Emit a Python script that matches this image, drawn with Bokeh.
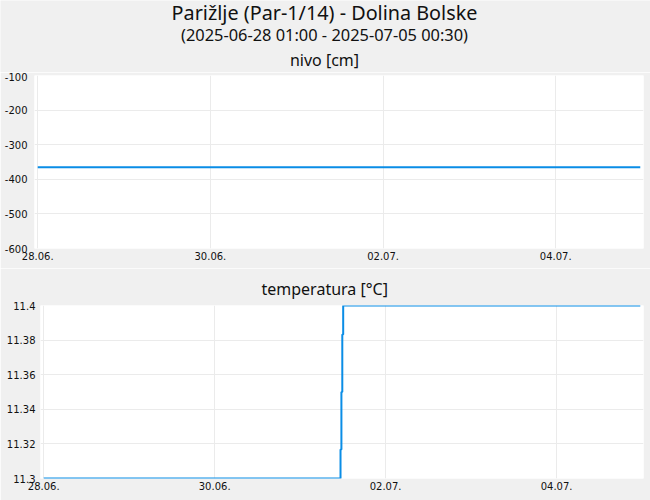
import pandas as pd
from bokeh.plotting import figure
from bokeh.layouts import column
from bokeh.models import Title, FixedTicker, Range1d, Column
from bokeh.core.properties import value
from bokeh.embed import file_html
from bokeh.resources import INLINE

# ---- data ----
title_main = "Parižlje (Par-1/14) - Dolina Bolske"
title_sub = "(2025-06-28 01:00 - 2025-07-05 00:30)"
level_title = "nivo [cm]"
temp_title = "temperatura [°C]"

level_times = ["2025-06-28 01:00", "2025-07-05 00:30"]
level_values = [-365, -365]

temp_times = ["2025-06-28 01:00", "2025-07-01 12:20", "2025-07-01 12:35",
              "2025-07-01 12:50", "2025-07-01 13:05", "2025-07-05 00:30"]
temp_values = [11.3, 11.3167, 11.35, 11.3833, 11.4, 11.4]

x_tick_dates = ["2025-06-28 01:00", "2025-06-30 01:00", "2025-07-02 01:00", "2025-07-04 01:00"]
x_tick_labels = ["28.06.", "30.06.", "02.07.", "04.07."]
level_ticks = [-600, -500, -400, -300, -200, -100]
level_tick_labels = ["-600", "-500", "-400", "-300", "-200", "-100"]
temp_ticks = [11.3, 11.32, 11.34, 11.36, 11.38, 11.4]
temp_tick_labels = ["11.3", "11.32", "11.34", "11.36", "11.38", "11.4"]

range_start = "2025-06-28 00:06"
range_end = "2025-07-05 01:24"


def ms(s):
    return pd.Timestamp(s).value / 1e6


LINE = "#0a8de6"
BG = "#f0f0f0"
TITLE_FONT = "Noto Sans"
TICK_FONT = "DejaVu Sans"
W = 650
H0 = 72

x_ticks = [ms(t) for t in x_tick_dates]
x_range = Range1d(ms(range_start), ms(range_end))

# ---- header strip with the titles ----
p0 = figure(width=W, height=H0, x_range=Range1d(0, W), y_range=Range1d(H0, 0),
            x_axis_type=None, y_axis_type=None, output_backend="svg",
            toolbar_location=None, title=None, min_border=0,
            min_border_left=0, min_border_right=0, min_border_top=0, min_border_bottom=0,
            background_fill_color=BG, border_fill_color=BG, outline_line_color=None)
p0.text(x=[324], y=[11.7], text=[title_main], text_align="center", text_baseline="alphabetic",
        text_font=value(TITLE_FONT), text_font_size="19.8px", text_color="#111111")
p0.text(x=[324], y=[34], text=[title_sub], text_align="center", text_baseline="alphabetic",
        text_font=value(TITLE_FONT), text_font_size="16.4px", text_color="#111111")
p0.text(x=[324], y=[59], text=[level_title], text_align="center", text_baseline="alphabetic",
        text_font=value(TITLE_FONT), text_font_size="16px", text_color="#111111")


def make_fig(height, left, top, bottom, yr, yticks, ylabels, ystandoff):
    p = figure(width=W, height=height, x_range=x_range, y_range=yr,
               output_backend="svg", toolbar_location=None, title=None,
               min_border_left=left, min_border_right=7,
               min_border_top=top, min_border_bottom=bottom,
               background_fill_color="white", border_fill_color=BG,
               outline_line_color=None)
    for ax in (p.xaxis[0], p.yaxis[0]):
        ax.axis_line_color = None
        ax.major_tick_line_color = None
        ax.minor_tick_line_color = None
        ax.major_tick_out = 0
        ax.major_tick_in = 0
        ax.minor_tick_out = 0
        ax.minor_tick_in = 0
        ax.major_label_text_font = TICK_FONT
        ax.major_label_text_font_size = "10px"
        ax.major_label_text_color = "#111111"
    p.xaxis.major_label_standoff = 3
    p.yaxis.major_label_standoff = ystandoff
    p.xaxis.ticker = FixedTicker(ticks=x_ticks)
    p.xaxis.major_label_overrides = dict(zip(x_ticks, x_tick_labels))
    p.yaxis.ticker = FixedTicker(ticks=yticks)
    p.yaxis.major_label_overrides = dict(zip(yticks, ylabels))
    p.xgrid.grid_line_color = "#ebebeb"
    p.ygrid.grid_line_color = "#ebebeb"
    return p


p1 = make_fig(268 - H0, 34, 75 - H0, 20, Range1d(-600, -100), level_ticks, level_tick_labels, 7)
p1.line([ms(t) for t in level_times], level_values, line_width=2, color=LINE)

p2 = make_fig(232, 40, 37, 22, Range1d(11.3, 11.4), temp_ticks, temp_tick_labels, 5)
p2.add_layout(Title(text=temp_title, align="left", offset=221, standoff=11,
                    text_font=TITLE_FONT, text_font_size="16px", text_font_style="normal",
                    text_color="#111111"), "above")
p2.step([ms(t) for t in temp_times], temp_values, mode="after", line_width=2, color=LINE)

# each figure in its own box so that their frames are not aligned with each other
layout = column(Column(p0), Column(p1), Column(p2), spacing=0)

open("out.html", "w").write(file_html(layout, INLINE))
